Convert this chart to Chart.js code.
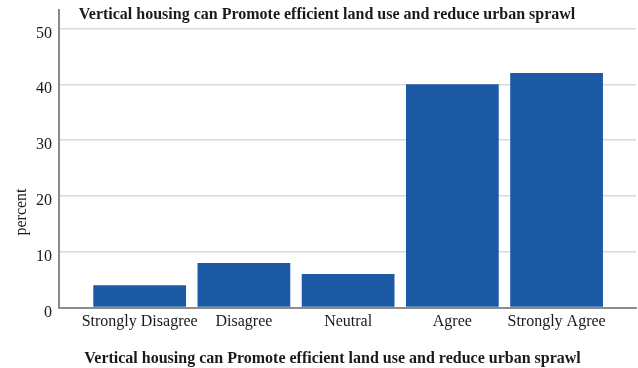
<!DOCTYPE html>
<html>
<head>
<meta charset="utf-8">
<script src="https://cdn.jsdelivr.net/npm/chart.js@4"></script>
<style>
  html, body { margin: 0; padding: 0; background: #fff; }
  #wrap { width: 638px; height: 368px; }
</style>
</head>
<body>
<div id="wrap"><canvas id="chart"></canvas></div>
<script>
// dados
const categories = ["Strongly Disagree", "Disagree", "Neutral", "Agree", "Strongly Agree"];
const percents = [4, 8, 6, 40, 42];
const yTicks = [0, 10, 20, 30, 40, 50];
const chartTitle = "Vertical housing can Promote efficient land use and reduce urban sprawl";
const yTitle = "percent";

const serif = "'Liberation Serif', 'Times New Roman', serif";
const barColor = "#1c5aa6";

// título de cima e rótulo do eixo y desenhados à mão
const extraText = {
  id: "extraText",
  afterDraw(chart) {
    const ctx = chart.ctx;
    ctx.save();
    ctx.fillStyle = "#1a1a1a";
    ctx.font = "bold 16px " + serif;
    ctx.textAlign = "center";
    ctx.textBaseline = "middle";
    ctx.fillText(chartTitle, 327, 15);
    ctx.font = "16px " + serif;
    ctx.translate(22, 212);
    ctx.rotate(-Math.PI / 2);
    ctx.fillText(yTitle, 0, 0);
    ctx.restore();
  }
};

new Chart(document.getElementById("chart"), {
  type: "bar",
  data: {
    datasets: [{
      data: categories.map((c, i) => ({ x: i, y: percents[i] })),
      backgroundColor: barColor,
      borderWidth: 0,
      barPercentage: 0.89,
      categoryPercentage: 1
    }]
  },
  options: {
    responsive: true, maintainAspectRatio: false,
    animation: false,
    layout: { padding: { left: 29, right: 2, top: 10, bottom: 0 } },
    plugins: {
      legend: { display: false },
      tooltip: { enabled: false },
      title: {
        display: true,
        position: "bottom",
        text: chartTitle,
        color: "#1a1a1a",
        font: { family: serif, size: 16, weight: "bold" },
        padding: { top: 12, bottom: 0 }
      }
    },
    scales: {
      x: {
        type: "linear",
        offset: false,
        min: -0.774,
        max: 4.762,
        afterBuildTicks: s => { s.ticks = categories.map((c, i) => ({ value: i })); },
        ticks: {
          autoSkip: false,
          maxRotation: 0,
          padding: 5,
          color: "#1a1a1a",
          font: { family: serif, size: 16 },
          callback: v => categories[v]
        },
        grid: { display: false, drawTicks: false, offset: false },
        border: { color: "#8c8c8c", width: 2 }
      },
      y: {
        min: 0,
        max: 53.3,
        afterBuildTicks: s => { s.ticks = yTicks.map(v => ({ value: v })); },
        ticks: {
          padding: 7,
          labelOffset: 5,
          color: "#1a1a1a",
          font: { family: serif, size: 16, lineHeight: 0.2 }
        },
        grid: { color: "#d9d9d9", lineWidth: 1.5, drawTicks: false },
        border: { color: "#8c8c8c", width: 2 }
      }
    }
  },
  plugins: [extraText]
});
</script>
</body>
</html>
